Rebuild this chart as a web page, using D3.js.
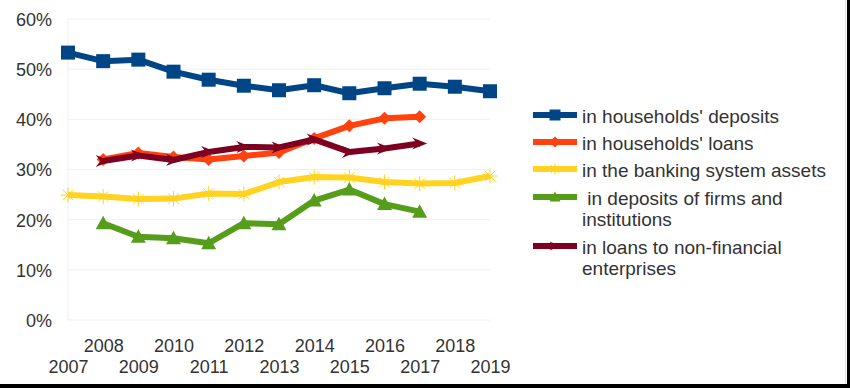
<!DOCTYPE html>
<html>
<head>
<meta charset="utf-8">
<script src="https://cdn.jsdelivr.net/npm/d3@7"></script>
<style>
  body { margin: 0; background: #fff; }
  svg { display: block; font-family: "Liberation Sans", Arial, sans-serif; }
</style>
</head>
<body>
<svg id="chart" width="850" height="388"></svg>
<script>
// data (percent)
var years = [2007, 2008, 2009, 2010, 2011, 2012, 2013, 2014, 2015, 2016, 2017, 2018, 2019];
var yTicks = [0, 10, 20, 30, 40, 50, 60];

var householdDeposits = [53.3, 51.6, 51.9, 49.5, 47.9, 46.7, 45.8, 46.8, 45.2, 46.2, 47.1, 46.5, 45.6];
var householdLoans    = [null, 32.0, 33.3, 32.5, 32.0, 32.7, 33.4, 36.2, 38.7, 40.2, 40.5, null, null];
var bankingAssets     = [24.9, 24.6, 24.1, 24.2, 25.2, 25.1, 27.5, 28.5, 28.4, 27.5, 27.2, 27.3, 28.7];
var firmDeposits      = [null, 19.3, 16.6, 16.3, 15.3, 19.3, 19.1, 23.8, 26.0, 23.1, 21.6, null, null];
var nonFinLoans       = [null, 31.7, 32.8, 31.9, 33.5, 34.5, 34.4, 36.0, 33.5, 34.2, 35.2, null, null];

var series = [
  {name: "in households' deposits", values: householdDeposits, color: "#004586", marker: "square"},
  {name: "in households' loans", values: householdLoans, color: "#ff420e", marker: "diamond"},
  {name: "in the banking system assets", values: bankingAssets, color: "#ffd320", marker: "star"},
  {name: [" in deposits of firms and", "institutions"], values: firmDeposits, color: "#579d1c", marker: "triangle"},
  {name: ["in loans to non-financial", "enterprises"], values: nonFinLoans, color: "#7e0021", marker: "arrow"}
];

var svg = d3.select("#chart");
var plotLeft = 68, plotRight = 490, plotTop = 19, plotBottom = 320;

var x = d3.scalePoint().domain(years).range([plotLeft, plotRight]);
var y = d3.scaleLinear().domain([0, 60]).range([plotBottom, plotTop]);

// gridlines
svg.append("g").selectAll("line")
  .data(yTicks)
  .enter().append("line")
  .attr("x1", plotLeft).attr("x2", plotRight)
  .attr("y1", function (d) { return y(d); })
  .attr("y2", function (d) { return y(d); })
  .attr("stroke", "#f0f0f0").attr("stroke-width", 1);

svg.append("line")
  .attr("x1", plotLeft).attr("x2", plotLeft).attr("y1", plotTop).attr("y2", plotBottom)
  .attr("stroke", "#f0f0f0");

// y axis labels
var yAxis = d3.axisLeft(y).tickValues(yTicks).tickSize(0).tickPadding(0)
  .tickFormat(function (d) { return d + "%"; });
svg.append("g")
  .attr("transform", "translate(52,0)")
  .call(yAxis)
  .call(function (g) { g.select(".domain").remove(); })
  .selectAll("text")
  .attr("font-size", 18)
  .attr("font-family", "Liberation Sans, Arial, sans-serif")
  .attr("fill", "#333")
  .attr("dy", "0.36em");

// x axis labels in two staggered rows
var xAxis = d3.axisBottom(x).tickSize(0).tickPadding(0);
var xg = svg.append("g").call(xAxis);
xg.select(".domain").remove();
xg.selectAll("text")
  .attr("font-size", 18)
  .attr("font-family", "Liberation Sans, Arial, sans-serif")
  .attr("fill", "#333")
  .attr("dy", null)
  .attr("y", function (d) { return d % 2 === 0 ? 352 : 373; });

function markerPath(type, s) {
  var h = s / 2;
  if (type === "square") return "M" + -h + "," + -h + "H" + h + "V" + h + "H" + -h + "Z";
  if (type === "diamond") return "M0," + -h + "L" + h + ",0L0," + h + "L" + -h + ",0Z";
  if (type === "triangle") return "M0," + (-h) + "L" + h + "," + (h * 0.8) + "L" + -h + "," + (h * 0.8) + "Z";
  if (type === "arrow") return "M" + h + ",0L" + -h + "," + (-h * 0.8) + "L" + (-h * 0.35) + ",0L" + -h + "," + (h * 0.8) + "Z";
  // star: thin asterisk
  return "M" + -h + ",0H" + h + "M0," + -h + "V" + h +
    "M" + (-h * 0.7) + "," + (-h * 0.7) + "L" + (h * 0.7) + "," + (h * 0.7) +
    "M" + (-h * 0.7) + "," + (h * 0.7) + "L" + (h * 0.7) + "," + (-h * 0.7);
}

var line = d3.line()
  .defined(function (d) { return d.v !== null; })
  .x(function (d) { return x(d.year); })
  .y(function (d) { return y(d.v); });

series.forEach(function (s) {
  var pts = s.values.map(function (v, i) { return {year: years[i], v: v}; });
  var g = svg.append("g");
  g.append("path")
    .attr("d", line(pts))
    .attr("fill", "none")
    .attr("stroke", s.color)
    .attr("stroke-width", 6)
    .attr("stroke-linejoin", "round");
  var size = s.marker === "square" ? 14 : (s.marker === "diamond" ? 13 : 15);
  g.selectAll("path.m")
    .data(pts.filter(function (d) { return d.v !== null; }))
    .enter().append("path")
    .attr("class", "m")
    .attr("transform", function (d) { return "translate(" + x(d.year) + "," + y(d.v) + ")"; })
    .attr("d", markerPath(s.marker, size))
    .attr("fill", s.marker === "star" ? "none" : s.color)
    .attr("stroke", s.color)
    .attr("stroke-width", s.marker === "star" ? 1 : 0);
});

// legend
var legendRows = [115, 142, 169, 197, 246];
series.forEach(function (s, i) {
  var ly = legendRows[i];
  var lg = svg.append("g");
  lg.append("line")
    .attr("x1", 533).attr("x2", 577).attr("y1", ly).attr("y2", ly)
    .attr("stroke", s.color).attr("stroke-width", 6);
  lg.append("path")
    .attr("transform", "translate(555," + ly + ")")
    .attr("d", markerPath(s.marker, 11))
    .attr("fill", s.marker === "star" ? "none" : s.color)
    .attr("stroke", s.color)
    .attr("stroke-width", s.marker === "star" ? 1 : 0);
  var names = Array.isArray(s.name) ? s.name : [s.name];
  var t = lg.append("text")
    .attr("x", 582).attr("y", ly + 8)
    .attr("font-size", 19)
    .attr("fill", "#333")
    .style("white-space", "pre");
  names.forEach(function (n, j) {
    t.append("tspan").attr("x", 582).attr("dy", j === 0 ? 0 : 21).text(n);
  });
});

// frame shadow on right and bottom
svg.append("rect").attr("x", 847).attr("y", 0).attr("width", 3).attr("height", 388).attr("fill", "#000");
svg.append("rect").attr("x", 0).attr("y", 384).attr("width", 850).attr("height", 4).attr("fill", "#000");
svg.append("line").attr("x1", 845.5).attr("x2", 845.5).attr("y1", 0).attr("y2", 384).attr("stroke", "#ddd");
</script>
</body>
</html>
